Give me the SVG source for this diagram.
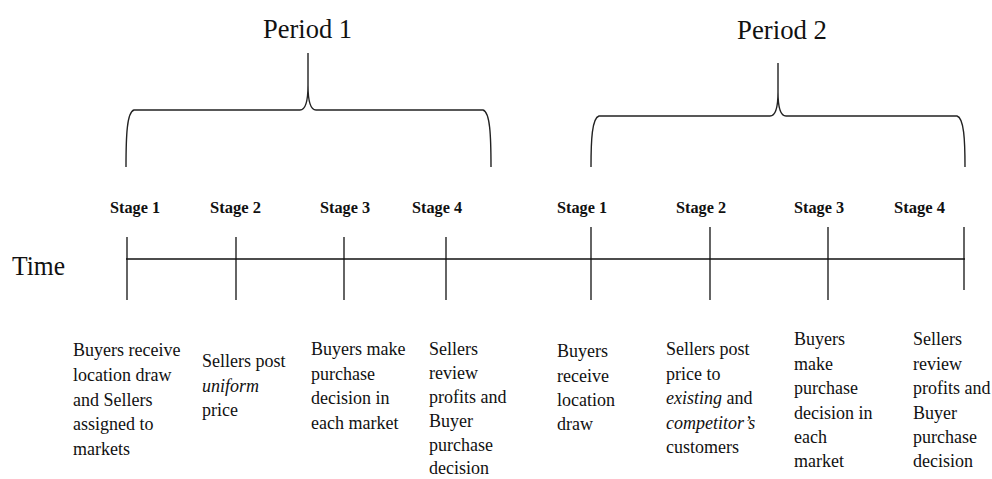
<svg xmlns="http://www.w3.org/2000/svg" width="992" height="479" viewBox="0 0 992 479">
<style>
.brace{fill:none;stroke:#222;stroke-width:1.4}
.axis{fill:none;stroke:#111;stroke-width:1.5}
.tick{stroke:#111;stroke-width:1.3}
.period{font-family:"Liberation Serif",serif;font-size:28px;fill:#111}
.time{font-family:"Liberation Serif",serif;font-size:28px;fill:#111}
.stage{font-family:"Liberation Serif",serif;font-size:16px;font-weight:bold;fill:#111}
.desc{font-family:"Liberation Serif",serif;font-size:18px;fill:#111}
.it{font-style:italic}
</style>
<rect width="992" height="479" fill="#fff"/>
<g id="period1">
<path class="brace" d="M126,167 C126,135 127,112 134,110 L300,110 Q308,110 308,85 L308,53 M308,85 Q308,110 316,110 L483,110 C490,112 491,135 491,167"/>
<text class="period" x="263" y="38" textLength="89" lengthAdjust="spacingAndGlyphs">Period 1</text>
</g>
<g id="period2">
<path class="brace" d="M591,167 C591,140 592,118 599,116 L770,116 Q778,116 778,92 L778,63 M778,92 Q778,116 786,116 L957,116 C964,118 965,140 965,167"/>
<text class="period" x="737" y="39" textLength="90" lengthAdjust="spacingAndGlyphs">Period 2</text>
</g>
<g id="time-label">
<text class="time" x="12" y="275" textLength="53" lengthAdjust="spacingAndGlyphs">Time</text>
</g>
<g id="connectors">
<line class="axis" x1="126" y1="259" x2="965" y2="259"/>
<line class="tick" x1="127" y1="237" x2="127" y2="300"/>
<line class="tick" x1="236" y1="237" x2="236" y2="300"/>
<line class="tick" x1="344" y1="237" x2="344" y2="300"/>
<line class="tick" x1="446" y1="237" x2="446" y2="300"/>
<line class="tick" x1="591" y1="227" x2="591" y2="300"/>
<line class="tick" x1="710" y1="227" x2="710" y2="300"/>
<line class="tick" x1="828" y1="227" x2="828" y2="300"/>
<line class="tick" x1="964" y1="227" x2="964" y2="290"/>
</g>
<g id="p1-stage1">
<text class="stage" x="110" y="213" textLength="50" lengthAdjust="spacingAndGlyphs">Stage 1</text>
<text class="desc" x="73"><tspan x="73" y="356">Buyers receive</tspan><tspan x="73" y="381">location draw</tspan><tspan x="73" y="406">and Sellers</tspan><tspan x="73" y="430">assigned to</tspan><tspan x="73" y="455">markets</tspan></text>
</g>
<g id="p1-stage2">
<text class="stage" x="210" y="213" textLength="51" lengthAdjust="spacingAndGlyphs">Stage 2</text>
<text class="desc"><tspan x="202" y="367">Sellers post</tspan><tspan x="202" y="392" class="it">uniform</tspan><tspan x="202" y="416">price</tspan></text>
</g>
<g id="p1-stage3">
<text class="stage" x="320" y="213" textLength="50" lengthAdjust="spacingAndGlyphs">Stage 3</text>
<text class="desc"><tspan x="311" y="355">Buyers make</tspan><tspan x="311" y="380">purchase</tspan><tspan x="311" y="404">decision in</tspan><tspan x="311" y="429">each market</tspan></text>
</g>
<g id="p1-stage4">
<text class="stage" x="412" y="213" textLength="50" lengthAdjust="spacingAndGlyphs">Stage 4</text>
<text class="desc"><tspan x="429" y="355">Sellers</tspan><tspan x="429" y="379">review</tspan><tspan x="429" y="403">profits and</tspan><tspan x="429" y="427">Buyer</tspan><tspan x="429" y="451">purchase</tspan><tspan x="429" y="474">decision</tspan></text>
</g>
<g id="p2-stage1">
<text class="stage" x="557" y="213" textLength="50" lengthAdjust="spacingAndGlyphs">Stage 1</text>
<text class="desc"><tspan x="557" y="357">Buyers</tspan><tspan x="557" y="382">receive</tspan><tspan x="557" y="406">location</tspan><tspan x="557" y="430">draw</tspan></text>
</g>
<g id="p2-stage2">
<text class="stage" x="676" y="213" textLength="50" lengthAdjust="spacingAndGlyphs">Stage 2</text>
<text class="desc"><tspan x="666" y="355">Sellers post</tspan><tspan x="666" y="380">price to</tspan><tspan x="666" y="404"><tspan class="it">existing</tspan> and</tspan><tspan x="666" y="429" class="it">competitor’s</tspan><tspan x="666" y="453">customers</tspan></text>
</g>
<g id="p2-stage3">
<text class="stage" x="794" y="213" textLength="50" lengthAdjust="spacingAndGlyphs">Stage 3</text>
<text class="desc"><tspan x="794" y="345">Buyers</tspan><tspan x="794" y="370">make</tspan><tspan x="794" y="394">purchase</tspan><tspan x="794" y="419">decision in</tspan><tspan x="794" y="443">each</tspan><tspan x="794" y="467">market</tspan></text>
</g>
<g id="p2-stage4">
<text class="stage" x="894" y="213" textLength="51" lengthAdjust="spacingAndGlyphs">Stage 4</text>
<text class="desc"><tspan x="913" y="345">Sellers</tspan><tspan x="913" y="370">review</tspan><tspan x="913" y="394">profits and</tspan><tspan x="913" y="419">Buyer</tspan><tspan x="913" y="443">purchase</tspan><tspan x="913" y="467">decision</tspan></text>
</g>
</svg>
